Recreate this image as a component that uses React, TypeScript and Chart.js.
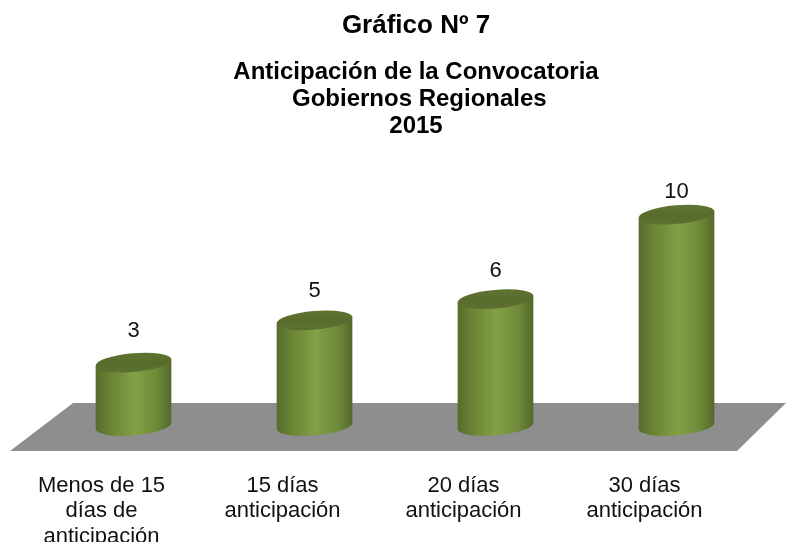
import React, { useEffect, useRef } from "react";
import { Chart, registerables } from "chart.js";

Chart.register(...registerables);

const categories = [
  ["Menos de 15", "días de", "anticipación"],
  ["15 días", "anticipación"],
  ["20 días", "anticipación"],
  ["30 días", "anticipación"],
];
const values = [3, 5, 6, 10];
const chartTitle = "Gráfico Nº 7";
const chartSubtitle = ["Anticipación de la Convocatoria", " Gobiernos Regionales", "2015"];

const FONT = "'Liberation Sans', Arial, sans-serif";
const TILT = (-5 * Math.PI) / 180;
const RY = 9.3;

const cylinderPlugin = {
  id: "cylinders",
  afterLayout(chart: any) {
    for (const box of chart.boxes) {
      if (box.options && box.options.text !== undefined) {
        box.left += 11;
        box.right += 11;
      }
    }
  },
  beforeDatasetsDraw(chart: any) {
    const { ctx, chartArea, scales } = chart;
    const base = scales.y.getPixelForValue(0);
    const top = base - 23;
    const bottom = base + 25;
    ctx.save();
    ctx.beginPath();
    ctx.moveTo(chartArea.left - 33, bottom);
    ctx.lineTo(chartArea.left + 30, top);
    ctx.lineTo(chartArea.right + 19, top);
    ctx.lineTo(chartArea.right - 30, bottom);
    ctx.closePath();
    ctx.fillStyle = "#8e8e8e";
    ctx.fill();
    ctx.restore();
  },
  beforeDatasetDraw(chart: any, args: any) {
    const { ctx } = chart;
    const meta = args.meta;
    meta.data.forEach((el: any, i: number) => {
      const { x, y, base, width } = el.getProps(["x", "y", "base", "width"], true);
      const rx = width / 2;
      const dx = rx * Math.cos(TILT);
      const dy = rx * Math.sin(TILT);
      const body = ctx.createLinearGradient(x - rx, 0, x + rx, 0);
      body.addColorStop(0, "#566c2b");
      body.addColorStop(0.2, "#6a8435");
      body.addColorStop(0.52, "#82a145");
      body.addColorStop(0.82, "#6d8838");
      body.addColorStop(1, "#53682a");
      ctx.save();
      ctx.beginPath();
      ctx.moveTo(x - dx, y - dy);
      ctx.lineTo(x - dx, base - dy);
      ctx.ellipse(x, base, rx, RY, TILT, Math.PI, 0, true);
      ctx.lineTo(x + dx, y + dy);
      ctx.closePath();
      ctx.fillStyle = body;
      ctx.fill();

      const cap = ctx.createLinearGradient(0, y - RY, 0, y + RY);
      cap.addColorStop(0, "#5f7430");
      cap.addColorStop(0.5, "#586b2d");
      cap.addColorStop(1, "#5c7030");
      ctx.beginPath();
      ctx.ellipse(x, y, rx, RY, TILT, 0, Math.PI * 2);
      ctx.fillStyle = cap;
      ctx.fill();

      const v = values[i];
      ctx.fillStyle = "#111";
      ctx.font = `22px ${FONT}`;
      ctx.textAlign = "center";
      ctx.textBaseline = "middle";
      ctx.fillText(String(v), x, y - (35.5 - 1.25 * v));
      ctx.restore();
    });
    return false;
  },
};

export default function App() {
  const ref = useRef<HTMLCanvasElement>(null);
  useEffect(() => {
    document.body.style.margin = "0";
    const chart = new Chart(ref.current as HTMLCanvasElement, {
      type: "bar",
      data: {
        labels: categories,
        datasets: [
          {
            data: values,
            backgroundColor: "#7f9f45",
            barThickness: 76,
          },
        ],
      },
      options: {
        responsive: false,
        animation: false,
        layout: { padding: { left: 43, right: 19, top: 0, bottom: 0 } },
        plugins: {
          legend: { display: false },
          tooltip: { enabled: false },
          title: {
            display: true,
            text: chartTitle,
            color: "#000",
            font: { family: FONT, size: 26, weight: "bold", lineHeight: 1.2 },
            padding: { top: 10, bottom: 17.4 },
          },
          subtitle: {
            display: true,
            text: chartSubtitle,
            color: "#000",
            font: { family: FONT, size: 24, weight: "bold", lineHeight: 1.125 },
            padding: { top: 0, bottom: 75 },
          },
        },
        scales: {
          x: {
            grid: { display: false },
            border: { display: false },
            afterFit(scale: any) {
              scale.height = 116;
            },
            ticks: {
              color: "#111",
              padding: 39,
              labelOffset: -32,
              autoSkip: false,
              maxRotation: 0,
              minRotation: 0,
              font: { family: FONT, size: 22, lineHeight: 1.16 },
            },
          },
          y: {
            display: false,
            min: 0,
            max: 10,
          },
        },
      } as any,
      plugins: [cylinderPlugin],
    });
    return () => chart.destroy();
  }, []);
  return (
    <div style={{ width: 786, height: 542, background: "#fff" }}>
      <canvas ref={ref} width={786} height={542} style={{ display: "block" }} />
    </div>
  );
}
